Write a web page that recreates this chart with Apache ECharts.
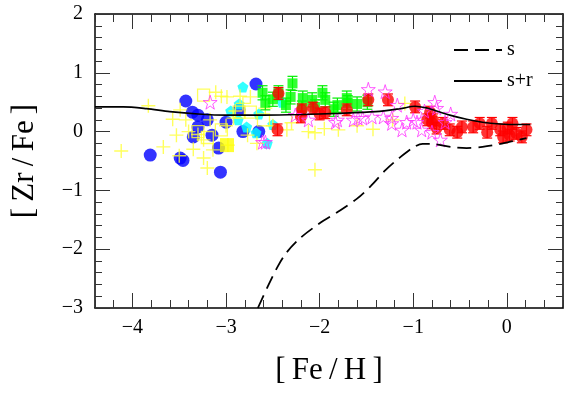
<!DOCTYPE html>
<html><head><meta charset="utf-8">
<script src="https://cdn.jsdelivr.net/npm/echarts@6/dist/echarts.min.js"></script>
<style>html,body{margin:0;padding:0;background:#fff}#c{width:570px;height:393px}</style>
</head><body><div id="c"></div>
<script>
// ---- data ----
const xMajorTicks = [-4, -3, -2, -1, 0];
const yMajorTicks = [-3, -2, -1, 0, 1, 2];

const curveS = [[-2.66,-3.0],[-2.55,-2.62],[-2.45,-2.3],[-2.35,-2.05],[-2.2,-1.8],[-2.0,-1.56],[-1.8,-1.36],[-1.6,-1.14],[-1.45,-0.92],[-1.3,-0.66],[-1.15,-0.45],[-1.0,-0.27],[-0.9,-0.21],[-0.8,-0.21],[-0.6,-0.26],[-0.43,-0.28],[-0.26,-0.26],[-0.07,-0.21],[0.07,-0.16],[0.21,-0.11]];
const curveSR = [[-4.4,0.42],[-4.1,0.42],[-3.85,0.39],[-3.6,0.34],[-3.3,0.3],[-3.0,0.28],[-2.6,0.28],[-2.2,0.29],[-1.8,0.31],[-1.4,0.34],[-1.14,0.39],[-0.98,0.43],[-0.85,0.4],[-0.79,0.37],[-0.61,0.28],[-0.43,0.21],[-0.26,0.16],[-0.07,0.13],[0.1,0.12],[0.25,0.12]];

const yellowCross = [[-4.12,-0.33],[-3.83,0.44],[-3.67,-0.26],[-3.57,0.21],[-3.53,-0.06],[-3.5,-0.41],[-3.49,0.37],[-3.43,0.2],[-3.35,-0.3],[-3.3,-0.05],[-3.24,-0.14],[-3.24,-0.45],[-3.2,-0.62],[-3.17,0.2],[-3.14,-0.31],[-3.11,0.67],[-3.05,0.6],[-2.99,0.59],[-2.98,-0.23],[-2.92,0.23],[-2.85,0.6],[-2.82,0.48],[-2.77,-0.06],[-2.74,0.59],[-2.67,-0.2],[-2.58,0.4],[-2.5,0.1],[-2.35,0.03],[-2.3,0.15],[-2.12,0.0],[-2.05,-0.02],[-2.05,-0.65],[-1.95,0.05],[-1.8,0.03],[-1.6,0.1],[-1.43,0.04],[-1.22,0.2],[-1.09,0.48],[-3.0,0.1],[-2.9,0.35],[-3.4,0.0]];
const blueCircle = [[-3.81,-0.40],[-3.49,-0.45],[-3.46,-0.49],[-3.43,0.52],[-3.36,0.33],[-3.3,0.28],[-3.3,0.08],[-3.35,-0.09],[-3.15,-0.06],[-3.06,-0.69],[-3.08,-0.28],[-3.0,0.16],[-2.86,0.37],[-2.82,0.0],[-2.68,0.81],[-2.65,0.0],[-3.2,0.2]];
const yellowOpenSquare = [[-3.24,0.62],[-3.3,0.0],[-3.05,0.03],[-2.86,0.33],[-2.74,0.33],[-2.6,0.2],[-3.2,-0.1]];
const yellowFilledSquare = [[-2.99,-0.23]];
const cyanPentagon = [[-2.82,0.76],[-2.86,0.47],[-2.87,0.2],[-2.78,0.08],[-2.68,-0.02],[-2.4,0.5],[-2.56,-0.2],[-2.95,0.35],[-2.65,0.3],[-2.5,0.12]];
// [x, y, error]
const greenSquare = [[-2.61,0.66,0.12],[-2.58,0.49,0.12],[-2.44,0.66,0.12],[-2.29,0.82,0.12],[-2.31,0.59,0.12],[-2.18,0.57,0.12],[-2.19,0.4,0.12],[-2.08,0.54,0.12],[-1.97,0.66,0.12],[-1.94,0.54,0.12],[-1.81,0.45,0.12],[-1.71,0.57,0.12],[-1.7,0.49,0.12],[-1.49,0.5,0.12],[-2.5,0.55,0.12],[-2.36,0.45,0.12],[-2.05,0.42,0.12],[-1.6,0.47,0.12],[-1.85,0.38,0.12]];
const redCircle = [[-2.44,0.65,0.1],[-2.45,0.03,0.1],[-2.19,0.37,0.1],[-2.07,0.4,0.1],[-1.94,0.32,0.1],[-1.71,0.37,0.1],[-1.48,0.54,0.1],[-1.27,0.54,0.1],[-0.98,0.42,0.1],[-0.82,0.33,0.1],[-0.85,0.2,0.1],[-0.8,0.15,0.1],[-0.75,0.06,0.1],[-0.61,0.03,0.1],[-0.48,0.08,0.1],[-0.36,0.08,0.1],[-0.29,0.14,0.1],[-0.16,0.14,0.1],[-0.07,0.03,0.1],[0.01,0.06,0.1],[0.06,0.14,0.1],[0.1,-0.03,0.1],[0.21,0.03,0.1],[0.16,-0.09,0.1],[0.03,-0.06,0.1],[-0.79,0.2,0.1],[-0.68,0.14,0.1],[-0.53,-0.01,0.1],[-0.21,-0.01,0.1],[-0.04,-0.09,0.1],[-2.2,0.25,0.1],[-2.0,0.3,0.1]];
const magentaStar = [[-3.17,0.5],[-2.26,0.28],[-2.12,0.2],[-1.81,0.2],[-1.59,0.23],[-1.48,0.72],[-1.3,0.68],[-1.44,0.25],[-1.23,0.23],[-1.12,0.03],[-1.07,0.16],[-0.96,0.16],[-0.91,0.03],[-2.58,-0.18],[-1.17,0.45],[-1.54,0.23],[-1.32,0.25],[-1.23,0.14],[-0.77,0.5],[-0.75,0.4],[-1.64,0.2],[-0.66,0.16],[-0.71,-0.14],[-0.8,-0.01],[-1.83,0.16],[-2.61,-0.18],[-1.0,0.2],[-0.88,0.35],[-0.6,0.3]];

// ---- chart ----
const FONT = 'Liberation Serif';
const fmtNum = v => (v < 0 ? '\u2212' + Math.abs(v) : String(v));
const isInt = v => Math.abs(v - Math.round(v)) < 1e-6;
const CROSS = 'path://M4.5,0H5.5V4.5H10V5.5H5.5V10H4.5V5.5H0V4.5H4.5Z';
const STAR = 'path://M50,0L61,35L98,35L68,57L79,91L50,70L21,91L32,57L2,35L39,35Z';
const PENT = 'path://M50,0L98,35L79,91L21,91L2,35Z';

function errBar(color) {
  return function (params, api) {
    const x = api.value(0), y = api.value(1), e = api.value(2);
    const a = api.coord([x, y + e]), b = api.coord([x, y - e]);
    const st = { stroke: color, lineWidth: 1.2 };
    return { type: 'group', children: [
      { type: 'line', shape: { x1: a[0], y1: a[1], x2: b[0], y2: b[1] }, style: st },
      { type: 'line', shape: { x1: a[0] - 5, y1: a[1], x2: a[0] + 5, y2: a[1] }, style: st },
      { type: 'line', shape: { x1: b[0] - 5, y1: b[1], x2: b[0] + 5, y2: b[1] }, style: st }
    ]};
  };
}

const axLine = { show: true, onZero: false, lineStyle: { color: '#000', width: 1.5 } };
const tickStyle = { color: '#333', width: 1 };
const labelStyle = { fontFamily: FONT, fontSize: 20, color: '#000' };

function xAx(pos, major, withLabel) {
  const o = { type: 'value', position: pos, min: -4.4, max: 0.6, splitLine: { show: false },
    axisLine: major ? { show: false, onZero: false } : axLine };
  if (major) {
    o.axisTick = { show: true, inside: true, length: 15, lineStyle: tickStyle, customValues: xMajorTicks };
    o.axisLabel = { show: false };
  } else {
    o.interval = 0.2;
    o.axisTick = { show: true, inside: true, length: 8, lineStyle: tickStyle };
    o.axisLabel = withLabel ? Object.assign({ margin: 10, formatter: v => isInt(v) ? fmtNum(Math.round(v)) : '' }, labelStyle) : { show: false };
    if (withLabel) {
      o.name = '[\u2009Fe\u2009/\u2009H\u2009]';
      o.nameLocation = 'middle';
      o.nameGap = 47;
      o.nameTextStyle = { fontFamily: FONT, fontSize: 31, color: '#000' };
    }
  }
  return o;
}
function yAx(pos, withLabel) {
  const o = { type: 'value', position: pos, min: -3, max: 2, interval: 1, splitLine: { show: false },
    axisLine: axLine,
    axisTick: { show: true, inside: true, length: 15, lineStyle: tickStyle },
    minorTick: { show: true, splitNumber: 5, length: 7, lineStyle: tickStyle },
    axisLabel: withLabel ? Object.assign({ margin: 12, formatter: v => fmtNum(v) }, labelStyle) : { show: false } };
  if (withLabel) {
    o.name = '[\u2009Zr\u2009/\u2009Fe\u2009]';
    o.nameLocation = 'middle';
    o.nameGap = 55;
    o.nameTextStyle = { fontFamily: FONT, fontSize: 31, color: '#000' };
  }
  return o;
}

const chart = echarts.init(document.getElementById('c'), null, { renderer: 'canvas' });
chart.setOption({
  animation: false,
  backgroundColor: '#fff',
  grid: { left: 95, right: 7, top: 14, bottom: 85, outerBoundsMode: 'none', containLabel: false },
  xAxis: [xAx('bottom', false, true), xAx('bottom', true), xAx('top', false, false), xAx('top', true)],
  yAxis: [yAx('left', true), yAx('right', false)],
  legend: {
    orient: 'vertical', left: 448, top: 35, itemWidth: 48, itemHeight: 12, itemGap: 11,
    itemStyle: { opacity: 0 },
    textStyle: { fontFamily: FONT, fontSize: 20, color: '#000' },
    data: ['s', 's+r']
  },
  series: [
    { type: 'scatter', name: 'blue', data: blueCircle, symbol: 'circle', symbolSize: 13, itemStyle: { color: '#0000ff' }, z: 2 },
    { type: 'scatter', name: 'cyan', data: cyanPentagon, symbol: PENT, symbolSize: 11, itemStyle: { color: '#00ffff' }, z: 2 },
    { type: 'scatter', name: 'ycross', data: yellowCross, symbol: CROSS, symbolSize: 14, itemStyle: { color: '#ffff33' }, z: 3 },
    { type: 'scatter', name: 'ysq', data: yellowOpenSquare, symbol: 'rect', symbolSize: 12, itemStyle: { color: 'rgba(0,0,0,0)', borderColor: '#ffff33', borderWidth: 1.3 }, z: 3 },
    { type: 'scatter', name: 'ysqf', data: yellowFilledSquare, symbol: 'rect', symbolSize: 14, itemStyle: { color: '#ffff00' }, z: 3 },
    { type: 'custom', name: 'gerr', data: greenSquare, renderItem: errBar('#00ee00'), z: 4 },
    { type: 'scatter', name: 'green', data: greenSquare, symbol: 'rect', symbolSize: 10, itemStyle: { color: '#00ff00' }, z: 4 },
    { type: 'custom', name: 'rerr', data: redCircle, renderItem: errBar('#ff0000'), z: 5 },
    { type: 'scatter', name: 'red', data: redCircle, symbol: 'circle', symbolSize: 12, itemStyle: { color: '#ff0000' }, z: 5 },
    { type: 'scatter', name: 'star', data: magentaStar, symbol: STAR, symbolSize: 14, itemStyle: { color: 'rgba(0,0,0,0)', borderColor: '#ff33ff', borderWidth: 1 }, z: 6 },
    { type: 'line', name: 's', data: curveS, smooth: 0.3, symbol: 'none', itemStyle: { color: '#000' }, lineStyle: { color: '#000', width: 1.8, type: [14, 7] }, z: 7 },
    { type: 'line', name: 's+r', data: curveSR, smooth: 0.3, symbol: 'none', itemStyle: { color: '#000' }, lineStyle: { color: '#000', width: 1.6 }, z: 7 }
  ]
});
</script>
</body></html>
